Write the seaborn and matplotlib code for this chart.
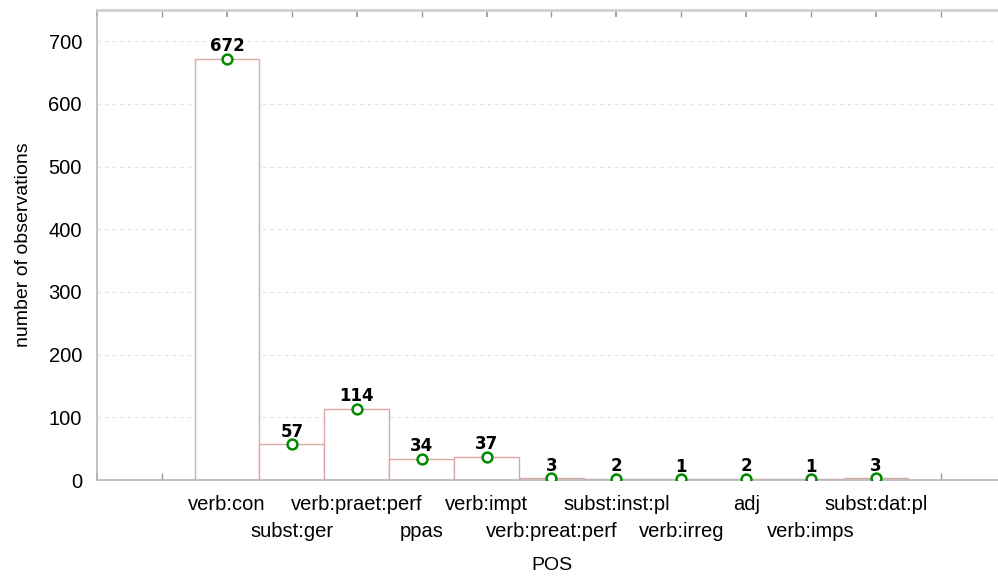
import numpy as np
import pandas as pd
import seaborn as sns
import matplotlib.pyplot as plt

# data
categories = ["verb:con", "subst:ger", "verb:praet:perf", "ppas", "verb:impt",
              "verb:preat:perf", "subst:inst:pl", "verb:irreg", "adj",
              "verb:imps", "subst:dat:pl"]
counts = [672, 57, 114, 34, 37, 3, 2, 1, 2, 1, 3]

df = pd.DataFrame({"POS": categories, "n": counts})
df["pos"] = np.arange(len(df))

sns.set_theme(style="white")
plt.rcParams["font.family"] = ["Liberation Sans", "DejaVu Sans"]
plt.rcParams["text.color"] = "black"
plt.rcParams["axes.labelcolor"] = "black"
plt.rcParams["xtick.labelcolor"] = "black"
plt.rcParams["ytick.labelcolor"] = "black"

fig = plt.figure(figsize=(9.98, 5.77), dpi=100)
ax = fig.add_axes([0.0974, 0.168, 0.9104, 0.815])

# grid behind the bars
ax.set_axisbelow(True)
ax.yaxis.grid(True, color="#e4e4e4", linestyle=(0, (3, 3)), linewidth=0.9)

# boxes
sns.barplot(df, x="POS", y="n", width=1.0, color="white",
            edgecolor="#dba8a8", linewidth=1.0, ax=ax, zorder=2)

# green open circles at the values
sns.scatterplot(df, x="pos", y="n", marker="o", s=50, facecolor="white",
                edgecolor="#008a00", linewidth=1.8, ax=ax, zorder=4)

# value labels
for x, v in zip(df["pos"], df["n"]):
    ax.annotate(str(v), (x, v), xytext=(0, 5.5), textcoords="offset points",
                ha="center", va="baseline", fontsize=12, fontweight="bold",
                family="DejaVu Sans", color="black", zorder=5)

ax.set_xlim(-2, 12)
ax.set_ylim(0, 750)
ax.set_yticks(range(0, 701, 100))

# even categories on the first row (major ticks), odd ones on the second (minor)
major = list(range(-2, 13, 2))
minor = list(range(-1, 12, 2))
n = len(categories)
ax.set_xticks(major)
ax.set_xticklabels([categories[t] if 0 <= t < n else "" for t in major])
ax.set_xticks(minor, minor=True)
ax.set_xticklabels([categories[t] if 0 <= t < n else "" for t in minor],
                   minor=True)
ax.tick_params(axis="x", which="both", direction="in", length=5,
               color="#999999", top=True, bottom=True, labelsize=14.5)
ax.tick_params(axis="x", which="major", pad=11)
ax.tick_params(axis="x", which="minor", pad=30.5)
ax.tick_params(axis="y", length=0, labelsize=14.5, pad=11)

ax.set_xlabel("POS", fontsize=14)
ax.xaxis.set_label_coords(0.5, -0.163)
ax.set_ylabel("number of observations", fontsize=14, labelpad=12)

for side in ["left", "bottom", "top", "right"]:
    ax.spines[side].set_color("#b8b8b8")
    ax.spines[side].set_linewidth(1.2)
ax.spines["top"].set_color("#d0d0d0")
ax.spines["top"].set_linewidth(2)

fig.savefig("out.png", dpi=100)
